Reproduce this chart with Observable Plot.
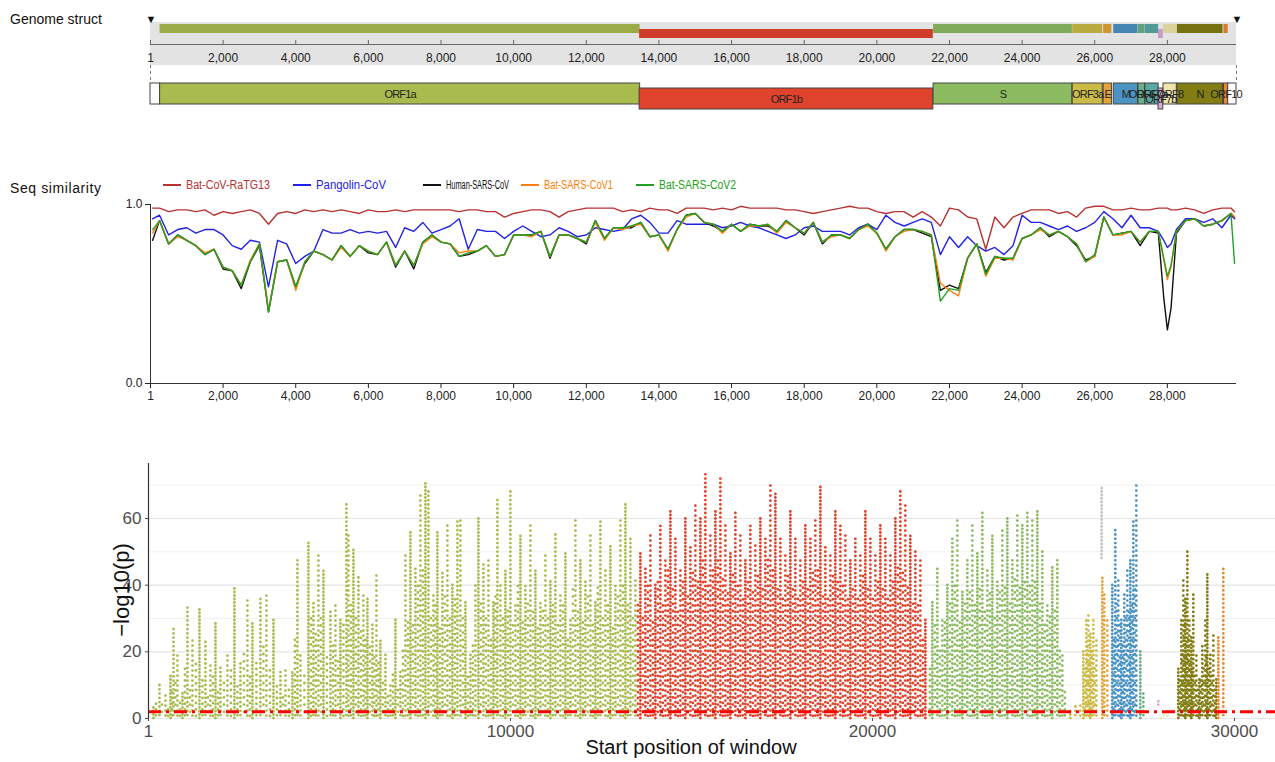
<!DOCTYPE html>
<html><head><meta charset="utf-8">
<script src="https://cdn.jsdelivr.net/npm/d3@7"></script>
<script src="https://cdn.jsdelivr.net/npm/@observablehq/plot@0.6"></script>
<style>
body{margin:0;background:#fff;}
#root{position:relative;width:1275px;height:762px;overflow:hidden;font-family:Arial,"Liberation Sans",sans-serif;background:#fff;}
.abs{position:absolute;}
.ptitle{font-size:14px;color:#111;white-space:nowrap;}
#top g[font-size="11"] text{letter-spacing:-0.8px;}
</style></head>
<body><div id="root">
<div class="abs ptitle" style="left:10px;top:11px">Genome struct</div>
<div class="abs ptitle" style="left:10px;top:180px;letter-spacing:0.6px">Seq similarity</div>
<div id="top" class="abs" style="left:0;top:0"></div>
<div id="legend" class="abs" style="left:0;top:176px"></div>
<div id="sim" class="abs" style="left:0;top:195px"></div>
<div id="man" class="abs" style="left:0;top:455px"></div>
<div class="abs" style="left:122px;top:590px;transform:translate(-50%,-50%) rotate(-90deg);font-size:22px;color:#111;white-space:nowrap">−log10(p)</div>
<div class="abs" style="left:491px;top:736px;width:400px;text-align:center;font-size:20px;color:#111">Start position of window</div>
</div>
<script>
// ---------- data ----------
const genomeLength = 29903;
const genomeTicks = [1,2000,4000,6000,8000,10000,12000,14000,16000,18000,20000,22000,24000,26000,28000];

const geneNames  = ["5'UTR","ORF1a","ORF1b","S","ORF3a","E","M","ORF6","ORF7a","ORF7b","ORF8","N","ORF10","3'UTR"];
const geneStarts = [1,266,13468,21563,25393,26245,26523,27202,27394,27756,27894,28274,29558,29675];
const geneEnds   = [265,13483,21555,25384,26220,26472,27191,27387,27759,27887,28259,29533,29674,29903];
const geneLanes  = [0,0,1,0,0,0,0,0,0,1,0,0,0,0];
const geneColors = ["#ffffff","#a9bb4f","#e0432b","#8cbb62","#cbbb47","#e3a43a","#4b93c3","#6aaf86","#5aa8a4","#d9a9d6","#efe6ac","#827d12","#e8882f","#ffffff"];

const seriesNames  = ["Bat-CoV-RaTG13","Pangolin-CoV","Human-SARS-CoV","Bat-SARS-CoV1","Bat-SARS-CoV2"];
const seriesColors = ["#b83232","#2222e6","#111111","#ff7f0e","#22a022"];
const legendLineX  = [163,293,423,521,636];
const legendTextW  = [84,70,63,69,77];

const simPos = [60,250,500,750,1000,1250,1500,1750,2000,2250,2500,2750,3000,3250,3500,3750,4000,4250,4500,4750,5000,5250,5500,5750,6000,6250,6500,6750,7000,7250,7500,
7750,8000,8250,8500,8750,9000,9250,9500,9750,10000,10250,10500,10750,11000,11250,11500,11750,12000,12250,12500,12750,13000,13250,13500,13750,14000,14250,14500,14750,15000,
15250,15500,15750,16000,16250,16500,16750,17000,17250,17500,17750,18000,18250,18500,18750,19000,19250,19500,19750,20000,20250,20500,20750,21000,21250,21500,21750,22000,22250,22500,
22750,23000,23250,23500,23750,24000,24250,24500,24750,25000,25250,25500,25750,26000,26250,26500,26750,27000,27250,27500,27750,
27900,28000,28100,28250,28500,28750,29000,29250,29500,29750,29850];

const simRaTG13 = [0.98,0.98,0.96,0.97,0.97,0.96,0.97,0.94,0.96,0.95,0.96,0.97,0.95,0.89,0.95,0.96,0.95,0.97,0.96,0.97,0.96,0.97,0.96,0.95,0.97,0.96,0.96,0.97,0.96,0.97,0.97,
0.97,0.97,0.97,0.96,0.97,0.97,0.96,0.96,0.93,0.95,0.96,0.97,0.97,0.96,0.93,0.96,0.97,0.98,0.98,0.98,0.98,0.96,0.97,0.96,0.98,0.97,0.97,0.95,0.98,0.98,
0.98,0.97,0.98,0.97,0.99,0.98,0.98,0.98,0.98,0.97,0.97,0.96,0.95,0.96,0.97,0.98,0.99,0.98,0.98,0.96,0.95,0.96,0.96,0.93,0.96,0.93,0.88,0.98,0.97,0.93,
0.92,0.75,0.93,0.87,0.93,0.95,0.97,0.97,0.97,0.95,0.96,0.93,0.98,0.99,0.99,0.97,0.97,0.98,0.97,0.97,0.98,
0.98,0.98,0.97,0.97,0.98,0.97,0.95,0.97,0.98,0.98,0.96];
const simPangolin = [0.92,0.94,0.83,0.86,0.87,0.84,0.86,0.86,0.83,0.77,0.75,0.80,0.79,0.54,0.80,0.78,0.67,0.71,0.74,0.86,0.84,0.84,0.86,0.84,0.85,0.84,0.85,0.76,0.87,0.85,0.90,
0.84,0.86,0.88,0.92,0.75,0.86,0.85,0.85,0.81,0.85,0.88,0.85,0.82,0.83,0.87,0.85,0.82,0.83,0.87,0.86,0.85,0.86,0.92,0.94,0.90,0.84,0.84,0.91,0.89,0.89,
0.89,0.89,0.87,0.88,0.90,0.88,0.87,0.85,0.83,0.81,0.83,0.87,0.88,0.85,0.85,0.85,0.83,0.87,0.89,0.86,0.94,0.90,0.88,0.90,0.92,0.90,0.72,0.82,0.76,0.82,
0.77,0.74,0.76,0.72,0.77,0.94,0.90,0.90,0.88,0.86,0.88,0.85,0.87,0.90,0.96,0.92,0.87,0.94,0.87,0.87,0.85,
0.80,0.76,0.78,0.86,0.92,0.92,0.90,0.92,0.87,0.94,0.92];
const simHuman = [0.80,0.91,0.78,0.83,0.80,0.77,0.72,0.75,0.64,0.63,0.53,0.68,0.77,0.40,0.68,0.69,0.54,0.67,0.74,0.72,0.69,0.77,0.71,0.77,0.73,0.72,0.79,0.65,0.74,0.64,0.79,
0.83,0.79,0.78,0.71,0.72,0.74,0.77,0.71,0.72,0.83,0.83,0.83,0.85,0.70,0.83,0.83,0.81,0.78,0.91,0.81,0.87,0.87,0.87,0.90,0.82,0.83,0.75,0.86,0.94,0.95,
0.90,0.88,0.85,0.89,0.85,0.89,0.88,0.88,0.85,0.91,0.87,0.83,0.90,0.78,0.83,0.83,0.81,0.86,0.89,0.84,0.75,0.82,0.86,0.86,0.84,0.82,0.52,0.55,0.53,0.70,
0.78,0.62,0.71,0.69,0.70,0.81,0.83,0.87,0.82,0.85,0.82,0.77,0.69,0.71,0.93,0.83,0.84,0.85,0.77,0.85,0.84,
0.48,0.30,0.42,0.84,0.91,0.92,0.88,0.89,0.91,0.95,0.93];
const simBatSARS1 = [0.84,0.91,0.78,0.82,0.80,0.77,0.73,0.75,0.65,0.63,0.55,0.69,0.78,0.41,0.68,0.69,0.52,0.68,0.74,0.72,0.69,0.76,0.71,0.77,0.74,0.72,0.79,0.66,0.74,0.66,0.78,
0.82,0.79,0.78,0.73,0.74,0.74,0.77,0.71,0.72,0.83,0.83,0.82,0.85,0.71,0.83,0.83,0.81,0.79,0.90,0.80,0.87,0.86,0.88,0.89,0.82,0.83,0.74,0.86,0.93,0.95,
0.90,0.89,0.84,0.89,0.85,0.88,0.88,0.89,0.84,0.90,0.87,0.84,0.90,0.79,0.82,0.83,0.81,0.86,0.88,0.84,0.74,0.82,0.85,0.86,0.85,0.83,0.56,0.52,0.49,0.70,
0.78,0.60,0.70,0.70,0.69,0.81,0.83,0.86,0.83,0.85,0.82,0.78,0.68,0.71,0.93,0.83,0.83,0.85,0.79,0.85,0.85,
0.69,0.58,0.65,0.85,0.91,0.92,0.88,0.89,0.91,0.95,0.93];
const simBatSARS2 = [0.86,0.91,0.78,0.83,0.80,0.77,0.72,0.75,0.65,0.63,0.55,0.68,0.78,0.40,0.68,0.69,0.54,0.68,0.74,0.72,0.69,0.77,0.71,0.77,0.74,0.72,0.79,0.66,0.74,0.66,0.79,
0.83,0.79,0.78,0.71,0.73,0.74,0.77,0.71,0.72,0.83,0.83,0.83,0.85,0.71,0.83,0.83,0.81,0.79,0.91,0.81,0.87,0.87,0.88,0.90,0.82,0.83,0.75,0.86,0.94,0.95,
0.90,0.89,0.85,0.89,0.85,0.89,0.88,0.89,0.85,0.91,0.87,0.84,0.90,0.79,0.83,0.83,0.81,0.86,0.89,0.84,0.75,0.82,0.86,0.86,0.85,0.83,0.46,0.53,0.52,0.70,
0.78,0.61,0.71,0.70,0.70,0.81,0.83,0.87,0.83,0.85,0.82,0.78,0.68,0.72,0.93,0.83,0.84,0.85,0.79,0.85,0.85,
0.70,0.60,0.66,0.85,0.91,0.92,0.88,0.89,0.91,0.95,0.67];

// Manhattan columns: [window start, top of dot column (-log10 p), optional bottom]
const colsORF1a = [[138,3.5],[304,10],[470,7],[608,13],[691,27],[801,20],[939,8],[1077,34],[1215,24],[1409,33],[1574,24],[1712,16],[1851,29],[1989,16],[2182,19],[2375,39],[2541,17],[2734,36],[2872,29],[3093,36],[3259,37],[3453,30],[3646,15],[3784,15],[3977,14],[4115,48],[4198,20],[4419,53],[4557,35],[4695,49],[4834,45],[5027,32],[5165,34],[5303,30],[5469,65],[5524,55],[5662,51],[5800,43],[5938,37],[6049,36],[6187,28],[6297,43],[6408,24],[6546,19],[6684,10],[6822,30],[6960,15],[7098,50],[7236,56],[7375,45],[7513,67],[7651,71],[7734,68],[7872,38],[7982,56],[8120,44],[8258,59],[8396,40],[8535,59],[8617,60],[8756,35],[8894,20],[9032,41],[9115,60],[9253,47],[9391,48],[9529,35],[9639,66],[9722,40],[9860,45],[9998,68],[10137,35],[10275,55],[10413,40],[10551,58],[10689,45],[10827,35],[10965,50],[11103,42],[11241,56],[11379,38],[11518,50],[11656,30],[11794,60],[11932,48],[12070,42],[12208,55],[12346,35],[12484,60],[12622,45],[12760,52],[12899,40],[13037,60],[13175,65],[13313,55],[13451,42]];
const fillORF1a = [[208,5],[374,6],[540,4],[650,9],[746,12],[870,6],[1008,15],[1146,10],[1312,18],[1491,12],[1643,8],[1781,14],[1920,9],[2085,12],[2278,15],[2458,10],[2637,20],[2803,14],[2982,18],[3176,22],[3356,16],[3549,10],[3715,8],[3880,9],[4046,25],[4308,14],[4488,30],[4626,26],[4764,30],[4930,20],[5096,22],[5234,18],[5386,28],[5593,35],[5731,32],[5869,27],[5993,25],[6118,22],[6242,20],[6352,18],[6477,12],[6615,8],[6753,14],[6891,10],[7029,22],[7167,30],[7305,28],[7444,40],[7582,45],[7803,30],[7927,35],[8051,28],[8189,38],[8327,30],[8466,36],[8686,30],[8825,14],[8963,22],[9184,35],[9322,30],[9460,25],[9584,38],[9791,30],[9929,33],[10068,28],[10206,40],[10344,30],[10482,35],[10620,32],[10758,28],[10896,33],[11034,30],[11172,35],[11310,28],[11449,35],[11587,25],[11725,40],[11863,32],[12001,30],[12139,38],[12277,28],[12415,40],[12553,30],[12691,35],[12830,28],[12968,38],[13106,40],[13244,35],[13382,30]];
const colsORF1b = [[13589,50],[13727,45],[13865,55],[14003,40],[14141,58],[14280,48],[14418,62],[14556,55],[14694,45],[14832,60],[14970,52],[15108,65],[15246,60],[15384,74],[15522,55],[15661,62],[15799,72],[15937,58],[16075,50],[16213,62],[16351,55],[16489,48],[16627,58],[16765,52],[16903,60],[17042,55],[17180,71],[17318,68],[17456,55],[17594,50],[17732,62],[17870,55],[18008,48],[18146,58],[18284,55],[18423,60],[18561,70],[18699,52],[18837,50],[18975,62],[19113,58],[19251,55],[19389,48],[19527,55],[19665,50],[19804,62],[19942,55],[20080,50],[20218,58],[20356,55],[20494,50],[20632,60],[20770,68],[20908,64],[21046,55],[21185,50],[21323,48],[21461,30]];
const fillORF1b = [[13520,35],[13658,32],[13796,40],[13934,30],[14072,42],[14211,35],[14349,45],[14487,40],[14625,33],[14763,42],[14901,38],[15039,45],[15177,42],[15315,48],[15453,40],[15592,45],[15730,48],[15868,42],[16006,38],[16144,44],[16282,40],[16420,36],[16558,42],[16696,38],[16834,44],[16973,40],[17111,48],[17249,46],[17387,40],[17525,36],[17663,44],[17801,40],[17939,36],[18077,42],[18215,40],[18354,44],[18492,46],[18630,38],[18768,36],[18906,44],[19044,42],[19182,40],[19320,36],[19458,40],[19596,36],[19735,44],[19873,40],[20011,36],[20149,42],[20287,40],[20425,36],[20563,42],[20701,46],[20839,44],[20977,40],[21116,36],[21254,34],[21392,25]];
const colsS = [[21654,35],[21792,45],[21930,30],[22068,40],[22206,55],[22344,60],[22483,38],[22621,48],[22759,58],[22897,50],[23035,62],[23173,45],[23311,55],[23449,42],[23587,57],[23726,60],[23864,48],[24002,62],[24140,58],[24278,62],[24416,60],[24554,62],[24692,50],[24830,35],[24968,46],[25107,48],[25245,20]];
const fillS = [[21585,15],[21723,28],[21861,22],[21999,30],[22137,35],[22275,40],[22414,30],[22552,35],[22690,38],[22828,35],[22966,40],[23104,32],[23242,38],[23380,30],[23518,38],[23657,40],[23795,35],[23933,42],[24071,40],[24209,42],[24347,40],[24485,42],[24623,36],[24761,28],[24899,32],[25038,34],[25176,22],[25314,8]];
const colsORF3a = [[25466,3],[25604,4],[25742,5],[25825,21],[25908,30],[25963,32],[26018,26],[26101,30],[26184,24]];
const fillORF3a = [[25866,15],[25935,22],[25990,18],[26060,20],[26142,15]];
const colsIntergenic = [[26330,70,48]];
const colsE = [[26349,43],[26404,38],[26487,30]];
const colsM = [[26625,40],[26708,57],[26791,42],[26874,30],[26957,38],[27040,45],[27123,48],[27206,60],[27288,71]];
const fillM = [[26666,25],[26750,35],[26832,28],[26915,22],[27000,30],[27082,32],[27165,35],[27247,40]];
const colsORF6 = [[27399,20],[27482,8]];
const colsORF7b = [[27896,6,4]];
const colsORF8 = [[27950,1],[28050,1],[28150,1]];
const colsN = [[28449,15],[28532,30],[28587,42],[28642,36],[28698,50],[28753,30],[28808,25],[28863,38],[28946,20],[29029,12],[29112,22],[29195,30],[29250,44],[29333,20],[29416,26],[29499,12]];
const fillN = [[28490,12],[28560,20],[28615,28],[28670,22],[28725,25],[28780,18],[28835,15],[28905,14],[28990,10],[29070,12],[29150,15],[29220,20],[29290,15],[29375,14],[29460,10]];
const colsORF10 = [[29554,25],[29692,45]];
const thresholdP = 2;

// ---------- build ----------
const genes = geneNames.map((name,i)=>({name,start:geneStarts[i],end:geneEnds[i],lane:geneLanes[i],color:geneColors[i],utr:name.includes("UTR")}));
const fmtComma = d => d===1 ? "1" : d3.format(",")(d);
const font = "Arial, 'Liberation Sans', sans-serif";

// Genome structure strip (y is a layout scale in pixels of this strip)
const topPlot = Plot.plot({
  width:1275, height:120, marginLeft:150, marginRight:39, marginTop:0, marginBottom:0,
  style:{fontFamily:font, background:"transparent"},
  x:{domain:[1,genomeLength], axis:null},
  y:{domain:[0,120], range:[0,120], axis:null},
  marks:[
    Plot.rect([{a:1,b:genomeLength}], {x1:"a", x2:"b", y1:22, y2:65, fill:"#e3e3e3"}),
    Plot.rect(genes.filter(g=>!g.utr), {x1:"start", x2:"end", y1:d=>d.lane?29:24, y2:d=>d.lane?38:33, fill:d=>d3.color(d.color).darker(0.25).formatHex()}),
    Plot.ruleY([44], {x1:1, x2:genomeLength, stroke:"#666"}),
    Plot.ruleX(genomeTicks, {y1:40, y2:44, stroke:"#666"}),
    Plot.text(genomeTicks, {x:d=>d, y:58, text:fmtComma, fontSize:12, fill:"#222"}),
    Plot.text([1,genomeLength], {x:d=>d, y:19, text:()=>"▼", fontSize:11, fill:"#111"}),
    Plot.ruleX([1,genomeLength], {y1:65, y2:83, stroke:"#777", strokeDasharray:"3,3"}),
    Plot.rect(genes, {x1:"start", x2:"end", y1:d=>d.lane?88:83, y2:d=>d.lane?109:104, fill:"color", stroke:"#444", strokeWidth:1}),
    Plot.text(genes.filter(g=>!g.utr), {x:d=>(d.start+d.end)/2, y:d=>d.lane?98.5:93.5, text:"name", fontSize:11, fill:"#222"})
  ]
});
document.getElementById("top").append(topPlot);

// Legend (inline SVG)
const legSvg = d3.select("#legend").append("svg").attr("width",1275).attr("height",18);
seriesNames.forEach((n,i)=>{
  legSvg.append("line").attr("x1",legendLineX[i]).attr("x2",legendLineX[i]+18).attr("y1",9).attr("y2",9).attr("stroke",seriesColors[i]).attr("stroke-width",2);
  legSvg.append("text").attr("x",legendLineX[i]+23).attr("y",13).attr("fill",seriesColors[i])
    .attr("font-size",12).attr("font-family",font).attr("textLength",legendTextW[i]).attr("lengthAdjust","spacingAndGlyphs").text(n);
});

// Sequence similarity panel
const simSeries = [simRaTG13, simPangolin, simHuman, simBatSARS1, simBatSARS2];
const simPlot = Plot.plot({
  width:1275, height:215, marginLeft:150, marginRight:39, marginTop:9, marginBottom:27,
  style:{fontFamily:font, fontSize:"12px", color:"#222", background:"transparent"},
  x:{domain:[1,genomeLength]},
  y:{domain:[0,1]},
  marks:[
    Plot.axisY({ticks:[0,1], tickFormat:d3.format(".1f"), tickSize:5, tickPadding:3, label:null}),
    Plot.axisX({ticks:genomeTicks, tickFormat:fmtComma, tickSize:5, tickPadding:3, label:null}),
    Plot.ruleX([1], {stroke:"#333"}),
    Plot.ruleY([0], {stroke:"#333"}),
    ...simSeries.map((vals,i)=>Plot.line(simPos.map((p,j)=>({pos:p, v:vals[j]})), {x:"pos", y:"v", stroke:seriesColors[i], strokeWidth:1.4}))
  ]
});
document.getElementById("sim").append(simPlot);

// Manhattan panel: each window column drawn as a dotted rule (round-capped zero-length dashes = dots);
// columns are split into three styling sub-groups with different dot pitch so the dots do not form a lattice
const mainGroups = [
  [colsIntergenic,"#c4c4c4"],[colsORF1a,geneColors[1]],[colsORF1b,geneColors[2]],[colsS,geneColors[3]],[colsORF3a,geneColors[4]],
  [colsE,geneColors[5]],[colsM,geneColors[6]],[colsORF6,geneColors[7]],[colsORF7b,geneColors[9]],[colsORF8,geneColors[10]],
  [colsN,geneColors[11]],[colsORF10,geneColors[12]]
];
const fillGroups = [
  [fillORF1a,geneColors[1]],[fillORF1b,geneColors[2]],[fillS,geneColors[3]],[fillORF3a,geneColors[4]],[fillM,geneColors[6]],[fillN,geneColors[11]]
];
const pitchMain = [[3.5,0],[4.3,1.4],[5.0,2.6]];
const pitchFill = [[5.8,3.1],[7.2,1.0],[6.5,4.4]];
const dotCols = (cols,c,pitch)=>pitch.map(([gap,off],k)=>Plot.ruleX(cols.filter((d,j)=>j%3===k), {x:d=>d[0], y1:d=>d[2] ?? 0, y2:d=>d[1], stroke:c, strokeWidth:2.8,
  strokeDasharray:`0,${gap}`, strokeDashoffset:off, strokeLinecap:"round"}));
const manPlot = Plot.plot({
  width:1275, height:307, marginLeft:148, marginRight:0, marginTop:8, marginBottom:44,
  style:{fontFamily:font, fontSize:"17px", background:"transparent"},
  x:{domain:[1,31133]},
  y:{domain:[0,76.5]},
  marks:[
    Plot.ruleY([10,30,50,70], {stroke:"#f1f1f1", strokeWidth:1}),
    Plot.ruleY([0,20,40,60], {stroke:"#e6e6e6", strokeWidth:1.2}),
    ...fillGroups.flatMap(([cols,c])=>dotCols(cols,c,pitchFill)),
    ...mainGroups.flatMap(([cols,c])=>dotCols(cols,c,pitchMain)),
    Plot.ruleY([thresholdP], {stroke:"#ff0000", strokeWidth:3, strokeDasharray:"13,5,3,5"}),
    Plot.ruleX([1], {stroke:"#333", strokeWidth:1.2}),
    Plot.axisY({ticks:[0,20,40,60], tickSize:3, tickPadding:4, label:null, color:"#4d4d4d"}),
    Plot.axisX({ticks:[1,10000,20000,30000], tickFormat:d=>String(d), tickSize:3, tickPadding:3, label:null, color:"#4d4d4d"})
  ]
});
document.getElementById("man").append(manPlot);
</script>
</body></html>
